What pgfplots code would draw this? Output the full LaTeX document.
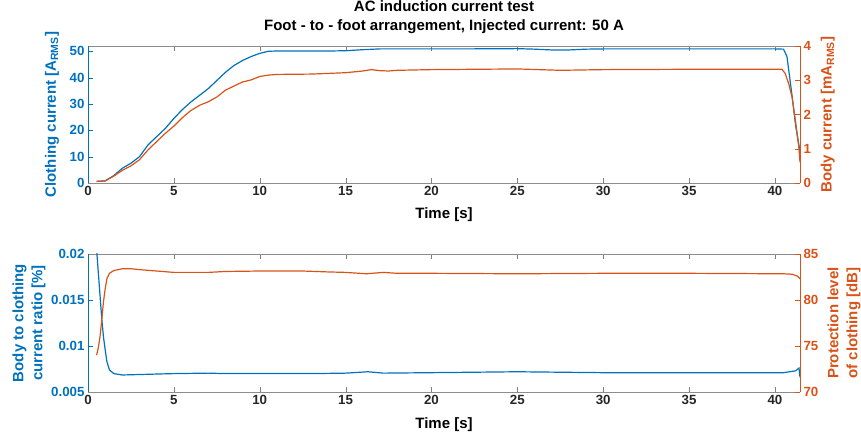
\documentclass[border=0pt]{standalone}
\usepackage{fontspec}
\setmainfont{Liberation Sans}
\usepackage{pgfplots}
\pgfplotsset{compat=1.18}
\definecolor{mblue}{RGB}{0,114,189}
\definecolor{morange}{RGB}{217,83,25}
\definecolor{mgray}{RGB}{38,38,38}

\pgfplotsset{
  mat/.style={
    scale only axis, width=712pt,
    xmin=0, xmax=41.46,
    tick align=inside,
    major tick length=5pt,
    scaled ticks=false,
    /pgf/number format/assume math mode=true,
    tick label style={font=\fontsize{13.3}{15}\selectfont\bfseries},
    label style={font=\fontsize{15}{19}\selectfont\bfseries},
    every axis plot/.append style={line width=1.2pt, no markers},
  },
  matleft/.style={mat,
    axis x line*=box, axis y line*=left,
    x axis line style={black!45, line width=0.6pt},
    y axis line style={mblue, line width=0.6pt},
    xtick={0,5,...,40},
    xtick style={draw=black!50},
    ytick style={draw=mblue},
    xticklabel style={text=mgray},
    yticklabel style={text=mblue},
    ylabel style={text=mblue, anchor=center, align=center},
    xlabel style={text=black, anchor=center},
  },
  matright/.style={mat,
    axis x line=none, axis y line*=right,
    xtick=\empty,
    y axis line style={morange, line width=0.6pt},
    ytick style={draw=morange},
    yticklabel style={text=morange},
    ylabel style={text=morange, anchor=center, align=center},
  },
}

\begin{document}
\begin{tikzpicture}
\useasboundingbox (0,0) rectangle (861pt,436pt);

% top: currents
\begin{axis}[matleft, at={(88pt,253pt)}, anchor=origin, height=137pt,
  ymin=0, ymax=52, ytick={0,10,...,50},
  xlabel={Time [s]},
  xlabel style={at={(axis description cs:0.5,-0.234)}},
  ylabel={Clothing current [A\textsubscript{RMS}]},
  ylabel style={at={(axis description cs:-0.0506,0.5)}},
  title={AC induction current test\\Foot - to - foot arrangement, Injected current: 50 A},
  title style={at={(axis description cs:0.5,1.164)}, anchor=center, align=center,
    font=\fontsize{15}{19}\selectfont\bfseries},
]
\addplot[mblue] coordinates {
(0.5,0.6)(1,0.8)(1.5,2.8)(2,5.6)(2.5,7.5)(3,10)(3.5,14.5)(4,17.6)(4.5,20.7)
(5,24.5)(5.5,27.9)(6,30.8)(6.5,33.3)(7,35.8)(7.5,38.9)(8,42)(8.5,44.6)(9,46.5)
(9.5,48)(10,49.2)(10.5,50)(11,50.1)(12,50.1)(13,50.1)(14,50.1)(15,50.2)(16,50.6)
(17,50.9)(18,50.9)(20,50.9)(22,50.9)(25,51)(26,50.8)(27,50.5)(28,50.5)(29,50.8)
(30,50.9)(35,50.9)(40,50.9)(40.5,50.8)(40.7,48)(40.9,38)(41,33)(41.2,22)(41.46,12)
};
\end{axis}
\begin{axis}[matright, at={(88pt,253pt)}, anchor=origin, height=137pt,
  ymin=0, ymax=4, ytick={0,1,...,4},
  ylabel={Body current [mA\textsubscript{RMS}]},
  ylabel style={at={(axis description cs:1.039,0.5)}},
]
\addplot[morange] coordinates {
(0.5,0.05)(1,0.06)(1.5,0.2)(2,0.37)(2.5,0.5)(3,0.68)(3.5,0.97)(4,1.21)(4.5,1.45)
(5,1.66)(5.5,1.91)(6,2.12)(6.5,2.27)(7,2.37)(7.5,2.51)(8,2.71)(8.5,2.83)(9,2.95)
(9.5,3.01)(10,3.11)(10.5,3.15)(11,3.17)(13,3.18)(15,3.22)(16,3.27)(16.5,3.31)
(17,3.28)(17.5,3.27)(18,3.29)(20,3.31)(25,3.33)(27.5,3.29)(30,3.31)(35,3.32)
(40.4,3.32)(40.6,3.2)(40.8,2.9)(41,2.5)(41.2,1.8)(41.4,1.0)(41.46,0.6)
};
\end{axis}

% bottom: ratio and protection level
\begin{axis}[matleft, at={(88pt,44pt)}, anchor=origin, height=138pt,
  ymin=0.005, ymax=0.02, ytick={0.005,0.01,0.015,0.02},
  yticklabels={0.005,0.01,0.015,0.02},
  xlabel={Time [s]},
  xlabel style={at={(axis description cs:0.5,-0.239)}},
  ylabel={Body to clothing\\current ratio [\%]},
  ylabel style={at={(axis description cs:-0.0829,0.5)}},
]
\addplot[mblue] coordinates {
(0.5,0.0205)(0.6,0.018)(0.7,0.0155)(0.8,0.013)(0.9,0.011)(1.0,0.0096)(1.1,0.0083)
(1.25,0.0074)(1.5,0.0070)(2,0.00685)(3,0.0069)(4,0.00695)(5,0.0070)(7,0.00705)
(8,0.0070)(10,0.0070)(13,0.0070)(15,0.00705)(16.3,0.0072)(17.2,0.00705)(20,0.0071)
(25,0.0072)(30,0.0071)(35,0.0071)(40.5,0.0071)(41.2,0.0073)(41.4,0.0076)(41.46,0.0066)
};
\end{axis}
\begin{axis}[matright, at={(88pt,44pt)}, anchor=origin, height=138pt,
  ymin=70, ymax=85, ytick={70,75,80,85},
  ylabel={Protection level\\of clothing [dB]},
  ylabel style={at={(axis description cs:1.0618,0.5)}},
]
\addplot[morange] coordinates {
(0.5,74.0)(0.6,74.8)(0.7,76.0)(0.8,77.8)(0.9,79.8)(1.0,81.2)(1.1,82.3)(1.25,82.9)
(1.5,83.2)(2,83.4)(2.5,83.4)(3,83.3)(4,83.15)(5,83.0)(6,83.0)(7,83.0)(8,83.1)
(10,83.15)(12.5,83.15)(14,83.05)(15,83.0)(16.2,82.85)(17.2,83.0)(18,82.9)(20,82.9)
(25,82.85)(30,82.9)(35,82.9)(40.5,82.85)(41,82.8)(41.3,82.6)(41.46,82.3)
};
\end{axis}
\end{tikzpicture}
\end{document}
